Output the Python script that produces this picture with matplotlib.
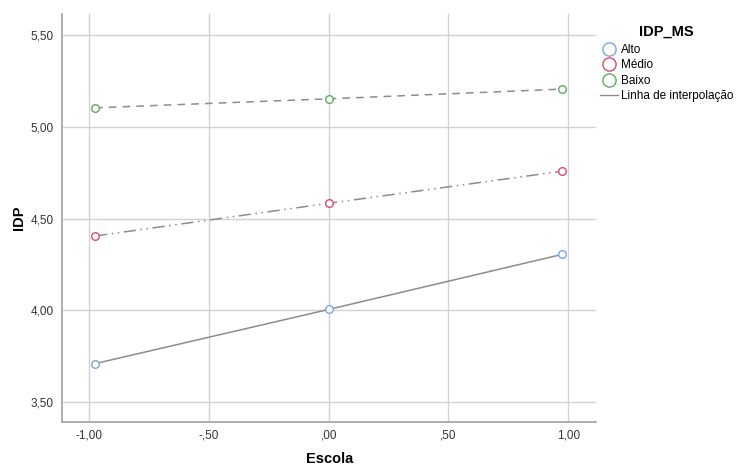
import matplotlib.pyplot as plt
from matplotlib.lines import Line2D

plt.rcParams['font.family'] = ['Liberation Sans', 'DejaVu Sans']

# Escola values and mean IDP per IDP_MS group
escola = [-0.975, 0.0, 0.975]
alto = [3.71, 4.005, 4.305]
medio = [4.405, 4.583, 4.758]
baixo = [5.103, 5.152, 5.205]

groups = ['Alto', 'Médio', 'Baixo']
colors = ['#78a6e8', '#dc4a6c', '#5aad5a']
styles = ['-', (0, (8, 3, 1, 3, 1, 3)), (0, (5, 4))]

xticks = [-1.0, -0.5, 0.0, 0.5, 1.0]
xticklabels = ['-1,00', '-,50', ',00', ',50', '1,00']
yticks = [3.5, 4.0, 4.5, 5.0, 5.5]
yticklabels = ['3,50', '4,00', '4,50', '5,00', '5,50']

fig = plt.figure(figsize=(7.38, 4.66), dpi=100)
ax = fig.add_axes([0.084, 0.094, 0.724, 0.876])

for ys, c, ls in zip([alto, medio, baixo], colors, styles):
    ax.plot(escola, ys, color='#8c8c8c', linestyle=ls, linewidth=1.1, zorder=2)
    ax.plot(escola, ys, linestyle='none', marker='o', markersize=5.5,
            markerfacecolor='white', markeredgecolor=c, markeredgewidth=1.0, zorder=3)

ax.set_xlim(-1.113, 1.117)
ax.set_ylim(3.391, 5.614)
ax.set_xticks(xticks)
ax.set_xticklabels(xticklabels)
ax.set_yticks(yticks)
ax.set_yticklabels(yticklabels)
ax.tick_params(length=0, labelsize=8.5, colors='#333333')
ax.tick_params(axis='x', pad=5)
ax.tick_params(axis='y', pad=6)
ax.grid(True, color='#d2d2d2', linewidth=1.0)
ax.set_axisbelow(True)
for s in ['top', 'right']:
    ax.spines[s].set_visible(False)
for s in ['left', 'bottom']:
    ax.spines[s].set_color('#a0a0a0')
    ax.spines[s].set_linewidth(1.2)

ax.set_xlabel('Escola', fontsize=10.5, fontweight='bold', labelpad=8)
ax.set_ylabel('IDP', fontsize=10.5, fontweight='bold', labelpad=3)

handles = [Line2D([], [], linestyle='none', marker='o', markersize=9.5,
                  markerfacecolor='white', markeredgecolor=c, markeredgewidth=1.0)
           for c in colors]
handles.append(Line2D([], [], color='#8c8c8c', linewidth=1.0))
labels = groups + ['Linha de interpolação']
leg = fig.legend(handles, labels, loc='upper left', bbox_to_anchor=(0.806, 0.958),
                 frameon=False, fontsize=8.5, title='IDP_MS', handlelength=1.6,
                 handletextpad=0.25, labelspacing=0.3, borderaxespad=0)
leg.get_title().set_fontweight('bold')
leg.get_title().set_fontsize(10.5)
leg._legend_box.align = 'center'
leg._legend_box.sep = 4

fig.savefig('out.png', dpi=100)
